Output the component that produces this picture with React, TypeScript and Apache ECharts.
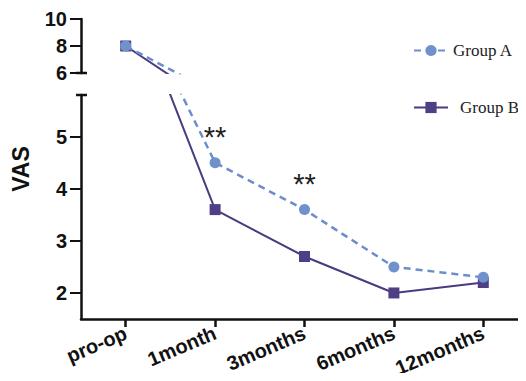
import React, { useEffect, useRef } from "react";
import * as echarts from "echarts";

const categories = ["pro-op", "1month", "3months", "6months", "12months"];
const groupA = [8, 4.5, 3.6, 2.5, 2.3];
const groupB = [8, 3.6, 2.7, 2.0, 2.2];
const starred = [1, 2];
const lowerTicks = [2, 3, 4, 5];

const colorA = "#6b8dcb";
const colorB = "#4a3b80";

export default function App() {
  const ref = useRef<HTMLDivElement>(null);
  useEffect(() => {
    if (!ref.current) return;
    const chart = echarts.init(ref.current, null, { renderer: "svg" });
    const axisLine = { show: true, lineStyle: { color: "#111", width: 2.5 } };
    const labelFont = { fontFamily: "Liberation Sans", fontWeight: "bold" as const, color: "#111" };
    const aLower = groupA.map((v, i) =>
      starred.includes(i)
        ? {
            value: v,
            label: {
              show: true,
              position: "top",
              distance: 6,
              formatter: "**",
              fontSize: 29,
              fontFamily: "Liberation Sans",
              color: "#222",
            },
          }
        : v
    );
    const mkSeries = (name: string, data: any[], idx: number, isA: boolean) => ({
      name,
      type: "line",
      xAxisIndex: idx,
      yAxisIndex: idx,
      data,
      clip: true,
      z: isA ? 3 : 2,
      symbol: isA ? "circle" : "rect",
      symbolSize: 11,
      lineStyle: { color: isA ? colorA : colorB, width: isA ? 2.5 : 2, type: isA ? [7, 5] : "solid" },
      itemStyle: { color: isA ? "#7091cc" : "#4f3f85", borderWidth: 0 },
    });
    chart.setOption({
      animation: false,
      backgroundColor: "#fff",
      legend: [
        {
          data: ["Group A"],
          left: 408,
          top: 37,
          itemWidth: 34,
          itemHeight: 14,
          textStyle: { fontFamily: "Liberation Serif", fontSize: 17, color: "#222" },
        },
        {
          data: ["Group B"],
          left: 408,
          top: 94,
          itemWidth: 34,
          itemHeight: 14,
          textStyle: { fontFamily: "Liberation Serif", fontSize: 17, color: "#222", padding: [0, 0, 0, 7] },
        },
      ],
      grid: [
        { left: 81, width: 447, top: 19, height: 54, outerBoundsMode: "none", containLabel: false },
        { left: 81, width: 447, top: 95, height: 224, outerBoundsMode: "none", containLabel: false },
      ],
      xAxis: [
        { type: "category", gridIndex: 0, data: categories, show: false, boundaryGap: true },
        {
          type: "category",
          gridIndex: 1,
          data: categories,
          boundaryGap: true,
          axisLine,
          axisTick: { show: true, alignWithLabel: true, length: 8, lineStyle: { color: "#111", width: 2.5 } },
          axisLabel: { ...labelFont, fontSize: 20, rotate: 23, margin: 13, interval: 0 },
        },
      ],
      yAxis: [
        {
          type: "value",
          gridIndex: 0,
          min: 6,
          max: 10,
          interval: 2,
          axisLine,
          splitLine: { show: false },
          axisTick: { show: true, length: 11, lineStyle: { color: "#111", width: 2 } },
          axisLabel: { ...labelFont, fontSize: 20, margin: 14 },
        },
        {
          type: "value",
          gridIndex: 1,
          min: 1.5,
          max: 5.8,
          axisLine,
          splitLine: { show: false },
          axisTick: { show: true, length: 11, customValues: lowerTicks, lineStyle: { color: "#111", width: 2 } },
          axisLabel: { ...labelFont, fontSize: 20, margin: 14, customValues: lowerTicks },
        },
      ],
      graphic: [
        { type: "line", shape: { x1: 76, y1: 73, x2: 87, y2: 73 }, style: { stroke: "#111", lineWidth: 2.5 } },
        { type: "line", shape: { x1: 76, y1: 95, x2: 87, y2: 95 }, style: { stroke: "#111", lineWidth: 2.5 } },
        {
          type: "text",
          x: 21,
          y: 169,
          rotation: Math.PI / 2,
          style: {
            text: "VAS",
            fontFamily: "Liberation Sans",
            fontWeight: "bold",
            fontSize: 23,
            fill: "#111",
            align: "center",
            verticalAlign: "middle",
          },
        },
      ],
      series: [
        mkSeries("Group B", groupB, 0, false),
        mkSeries("Group A", groupA, 0, true),
        mkSeries("Group B", groupB, 1, false),
        mkSeries("Group A", aLower, 1, true),
      ],
    });
    return () => chart.dispose();
  }, []);
  return <div ref={ref} style={{ width: 526, height: 381, margin: -8 }} />;
}
